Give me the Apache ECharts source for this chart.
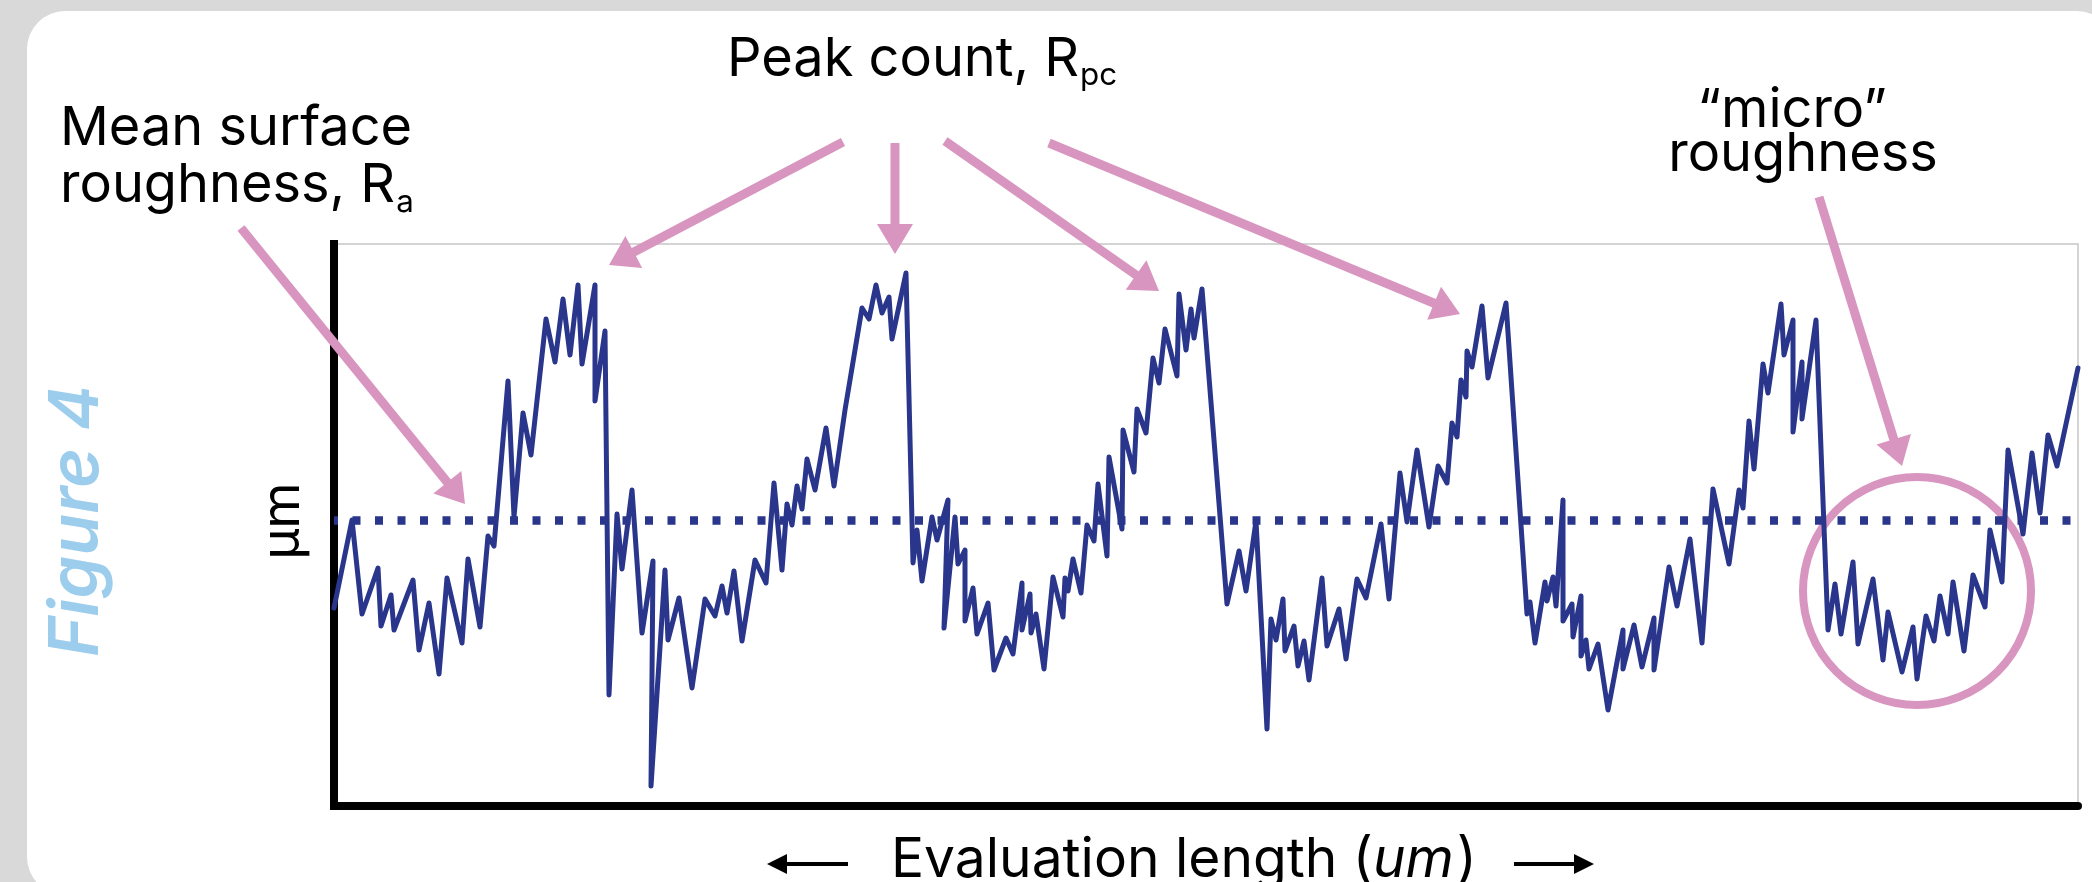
<!DOCTYPE html>
<html>
<head>
<meta charset="utf-8">
<script src="https://cdn.jsdelivr.net/npm/echarts@6/dist/echarts.min.js"></script>
<style>
html,body{margin:0;padding:0;background:#d9d9d9;}
#chart{width:2092px;height:882px;}
</style>
</head>
<body>
<div id="chart"></div>
<script>
// ---- DATA (profile; x = evaluation position, y = height about the mean line) ----
const evalX = [0,18,28,44,47,57,60,79,85,95,105,113,128,134,146,154,160,174,180,189,197,212,221,229,236,244,248,261,261,271,275,283,288,298,308,319,317,
331,334,345,358,371,381,388,393,400,408,421,432,440,448,453,458,463,468,473,481,492,500,511,528,535,542,548,555,558,572,579,583,588,598,603,614,610,621,624,631,631,
639,643,654,660,672,679,688,688,696,697,702,710,719,729,731,734,739,747,753,760,764,773,775,788,789,800,803,812,819,825,831,843,845,852,857,860,868,893,905,912,922,933,937,942,949,951,
960,964,970,975,988,993,1005,1012,1023,1032,1047,1055,1066,1073,1083,1095,1104,1113,1118,1123,1127,1132,1133,1138,1148,1154,1172,1193,1196,1201,1211,1213,1219,1222,1229,1229,1238,1239,1247,1247,1252,1255,1264,1274,
1289,1289,1300,1308,1320,1320,1335,1343,1356,1368,1379,1395,1405,1409,1415,1420,1429,1434,1447,1450,1459,1459,1468,1468,1482,1494,1501,1507,1519,1524,1539,1549,1554,1568,
1579,1583,1592,1600,1606,1614,1619,1630,1639,1651,1656,1668,1674,1689,1698,1706,1714,1723,1744];
const heightY = [-88,0,-94,-48,-106,-75,-110,-60,-130,-83,-154,-58,-123,-39,-107,-16,-26,139,3,107,65,201,158,221,165,235,156,235,119,189,-175,6,-49,30,-113,-41,-266,
-50,-120,-78,-168,-79,-96,-66,-93,-51,-121,-40,-63,37,-50,16,-5,34,11,61,30,92,34,110,212,201,235,207,223,181,247,-43,-10,-61,3,-20,20,-108,3,-44,-30,-101,
-68,-114,-83,-150,-118,-134,-63,-110,-74,-113,-94,-149,-57,-97,-58,-71,-39,-73,-5,-21,36,-36,63,-9,90,48,111,87,162,137,191,144,226,170,211,182,231,-84,-31,-71,-1,-209,-99,-120,-79,-131,
-106,-146,-121,-160,-58,-126,-89,-139,-59,-78,-4,-79,47,-2,70,-7,54,37,97,83,140,123,169,153,214,142,217,-94,-82,-123,-62,-81,-57,-86,20,-101,-84,-117,-76,-136,-120,-149,-124,-190,
-110,-149,-105,-147,-98,-150,-47,-86,-19,-123,31,-44,30,12,99,51,156,127,216,165,200,88,158,101,200,-110,-64,-114,-42,-124,-59,-140,-92,-152,
-107,-159,-96,-121,-76,-114,-62,-131,-55,-87,-10,-62,70,-14,67,7,85,54,152];
const meanLevel = [0];
const xRange = [0, 1744];
const yRange = [-286, 276];

// ---- TEXT ----
const peakLabel = ['Peak count, R', 'pc'];
const raLabel = ['Mean surface', 'roughness, R', 'a'];
const microLabel = ['\u201Cmicro\u201D', 'roughness'];
const xLabel = ['Evaluation length (', 'um', ')'];
const yLabel = '\u00B5m';
const figLabel = 'Figure 4';

// ---- STYLE ----
const NAVY = '#29368c';
const PINK = '#d895bf';
const FONT = 'Inter, "Noto Sans", sans-serif';

const ctx = document.createElement('canvas').getContext('2d');
function tw(text, size, weight, style) {
  ctx.font = (style || 'normal') + ' ' + (weight || 400) + ' ' + size + 'px ' + FONT;
  return ctx.measureText(text).width;
}
function fit(text, width, weight, style) { return 100 * width / tw(text, 100, weight, style); }
const K = 0.36;
function txt(text, x, baseline, size, o) {
  o = o || {};
  return {
    type: 'text', x: x, y: baseline - K * size, z: 5, silent: true,
    style: {
      text: text, fill: o.color || '#000',
      font: (o.style || 'normal') + ' ' + (o.weight || 400) + ' ' + size + 'px ' + FONT,
      align: o.align || 'left', verticalAlign: 'middle',
      textAlign: o.align || 'left', textVerticalAlign: 'middle'
    }
  };
}
function rtxt(text, cx, cy, size, o) {
  o = o || {};
  return {
    type: 'text', x: cx, y: cy, rotation: Math.PI / 2, z: 5, silent: true,
    style: {
      text: text, fill: o.color || '#000',
      font: (o.style || 'normal') + ' ' + (o.weight || 400) + ' ' + size + 'px ' + FONT,
      align: 'center', verticalAlign: 'middle', textAlign: 'center', textVerticalAlign: 'middle'
    }
  };
}
function arrow(sx, sy, tx, ty, color, headLen, headHalf, width, z) {
  const dx = tx - sx, dy = ty - sy, L = Math.hypot(dx, dy), ux = dx / L, uy = dy / L;
  const bx = tx - ux * headLen, by = ty - uy * headLen;
  const px = -uy, py = ux;
  return [
    { type: 'line', z: z, silent: true, shape: { x1: sx, y1: sy, x2: bx + ux * 2, y2: by + uy * 2 },
      style: { stroke: color, lineWidth: width } },
    { type: 'polygon', z: z, silent: true,
      shape: { points: [[tx, ty], [bx + px * headHalf, by + py * headHalf], [bx - px * headHalf, by - py * headHalf]] },
      style: { fill: color } }
  ];
}

// font size matched to the label widths in the reference
const fsMain = (fit(peakLabel[0], 354) + fit(raLabel[0], 351) + fit(microLabel[1], 269)) / 3;
const fsSub = fsMain * 0.58;

const graphics = [];
// card
graphics.push({ type: 'rect', z: -10, silent: true, shape: { x: 27, y: 11, width: 2088, height: 884, r: 38 }, style: { fill: '#ffffff' } });

// Peak count label
graphics.push(txt(peakLabel[0], 727, 79, fsMain));
graphics.push(txt(peakLabel[1], 727 + tw(peakLabel[0], fsMain) + 1, 87, fsSub));
// Ra label
graphics.push(txt(raLabel[0], 60, 148, fsMain));
graphics.push(txt(raLabel[1], 60, 205, fsMain));
graphics.push(txt(raLabel[2], 60 + tw(raLabel[1], fsMain) + 1, 214, fsSub));
// micro roughness
graphics.push(txt(microLabel[0], 1792, 130, fsMain, { align: 'center' }));
graphics.push(txt(microLabel[1], 1803, 174, fsMain, { align: 'center' }));

// x label with arrows
const fsX = 583 / (tw(xLabel[0], 1) + tw(xLabel[1], 1, 400, 'italic') + tw(xLabel[2], 1));
let xx = 891;
graphics.push(txt(xLabel[0], xx, 880, fsX)); xx += tw(xLabel[0], fsX);
graphics.push(txt(xLabel[1], xx, 880, fsX, { style: 'italic' })); xx += tw(xLabel[1], fsX, 400, 'italic') + 3;
graphics.push(txt(xLabel[2], xx, 880, fsX));
graphics.push(...arrow(848, 864, 767, 864, '#000', 20, 10, 4, 5));
graphics.push(...arrow(1514, 864, 1594, 864, '#000', 20, 10, 4, 5));

// rotated labels
const fsFig = fit(figLabel, 272, 600, 'italic');
graphics.push(rtxt(figLabel, 102 - K * fsFig, 521, fsFig, { color: '#9dcdec', weight: 600, style: 'italic' }));
graphics.push(rtxt(yLabel, 302 - K * 53, 521, 53));

// pink annotations
graphics.push(...arrow(241, 228, 465, 504, PINK, 28, 18, 9, 1));
graphics.push(...arrow(843, 142, 609, 265, PINK, 28, 18, 9, 1));
graphics.push(...arrow(895, 143, 895, 254, PINK, 30, 18, 9, 1));
graphics.push(...arrow(945, 141, 1159, 291, PINK, 28, 18, 9, 1));
graphics.push(...arrow(1049, 143, 1460, 314, PINK, 28, 18, 9, 1));
graphics.push(...arrow(1819, 197, 1902, 466, PINK, 28, 18, 9, 1));
graphics.push({ type: 'circle', z: 1, silent: true, shape: { cx: 1917, cy: 591, r: 114 }, style: { fill: 'none', stroke: PINK, lineWidth: 8 } });

const chart = echarts.init(document.getElementById('chart'), null, { renderer: 'canvas' });
chart.setOption({
  animation: false,
  backgroundColor: '#d9d9d9',
  grid: { left: 334, right: 14, top: 244, bottom: 76, show: true, borderColor: '#c6c6c6', borderWidth: 1.5, backgroundColor: 'transparent' },
  xAxis: {
    type: 'value', min: xRange[0], max: xRange[1],
    axisLine: { show: true, onZero: false, lineStyle: { color: '#000', width: 8 } },
    axisTick: { show: false }, axisLabel: { show: false }, splitLine: { show: false }
  },
  yAxis: {
    type: 'value', min: yRange[0], max: yRange[1],
    axisLine: { show: true, onZero: false, lineStyle: { color: '#000', width: 8, cap: 'square' } },
    axisTick: { show: false }, axisLabel: { show: false }, splitLine: { show: false }
  },
  graphic: graphics,
  series: [{
    type: 'line', name: 'profile', z: 3,
    data: evalX.map((x, i) => [x, heightY[i]]),
    symbol: 'none', showSymbol: false,
    lineStyle: { color: NAVY, width: 5, join: 'round', cap: 'round' },
    emphasis: { disabled: true },
    markLine: {
      silent: true, symbol: 'none', label: { show: false },
      lineStyle: { color: NAVY, width: 8.5, type: [8, 14.5], dashOffset: 4 },
      emphasis: { disabled: true },
      data: meanLevel.map(v => ({ yAxis: v }))
    }
  }]
});
</script>
</body>
</html>
